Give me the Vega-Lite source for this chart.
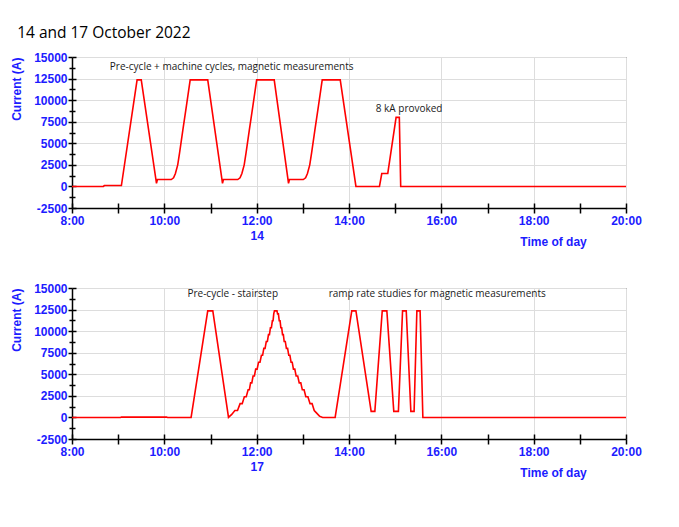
{
  "$schema": "https://vega.github.io/schema/vega-lite/v6.json",
  "background": "white",
  "padding": {"left": 10, "top": 26, "right": 5, "bottom": 5},
  "title": {"text": "14 and 17 October 2022", "anchor": "start", "frame": "bounds", "font": "Open Sans", "fontSize": 15.5, "fontWeight": "normal", "color": "#000000", "offset": 9, "dx": 7},
  "datasets": {
    "d14": [
      {"t": 8, "a": 0}, {"t": 8.68, "a": 0}, {"t": 8.7, "a": 100}, {"t": 9.07, "a": 100},
      {"t": 9.41, "a": 12350}, {"t": 9.5, "a": 12350}, {"t": 9.83, "a": 350}, {"t": 9.85, "a": 800},
      {"t": 10.15, "a": 800}, {"t": 10.2, "a": 1000}, {"t": 10.24, "a": 1500}, {"t": 10.29, "a": 2500},
      {"t": 10.33, "a": 3900}, {"t": 10.4, "a": 6500}, {"t": 10.48, "a": 9400}, {"t": 10.56, "a": 12350},
      {"t": 10.94, "a": 12350}, {"t": 11.26, "a": 350}, {"t": 11.28, "a": 800},
      {"t": 11.59, "a": 800}, {"t": 11.64, "a": 1000}, {"t": 11.68, "a": 1500}, {"t": 11.73, "a": 2500},
      {"t": 11.77, "a": 3900}, {"t": 11.84, "a": 6500}, {"t": 11.92, "a": 9400}, {"t": 12.0, "a": 12350},
      {"t": 12.38, "a": 12350}, {"t": 12.69, "a": 350}, {"t": 12.71, "a": 800},
      {"t": 13.01, "a": 800}, {"t": 13.06, "a": 1000}, {"t": 13.1, "a": 1500}, {"t": 13.15, "a": 2500},
      {"t": 13.19, "a": 3900}, {"t": 13.26, "a": 6500}, {"t": 13.34, "a": 9400}, {"t": 13.42, "a": 12350},
      {"t": 13.81, "a": 12350}, {"t": 14.15, "a": 0}, {"t": 14.66, "a": 0}, {"t": 14.71, "a": 1500},
      {"t": 14.84, "a": 1500}, {"t": 15.02, "a": 8000}, {"t": 15.09, "a": 8000}, {"t": 15.12, "a": 0},
      {"t": 20, "a": 0}
    ],
    "d17": [
      {"t": 8, "a": 0}, {"t": 9.05, "a": 0}, {"t": 9.07, "a": 40}, {"t": 10.05, "a": 40}, {"t": 10.07, "a": 0},
      {"t": 10.58, "a": 0}, {"t": 10.94, "a": 12350}, {"t": 11.05, "a": 12350}, {"t": 11.39, "a": 0},
      {"t": 11.46, "a": 350}, {"t": 11.528, "a": 800}, {"t": 11.585, "a": 800}, {"t": 11.641, "a": 1600},
      {"t": 11.687, "a": 1600}, {"t": 11.733, "a": 2400}, {"t": 11.774, "a": 2400}, {"t": 11.815, "a": 3200},
      {"t": 11.842, "a": 3200}, {"t": 11.868, "a": 4000}, {"t": 11.895, "a": 4000}, {"t": 11.922, "a": 4800},
      {"t": 11.951, "a": 4800}, {"t": 11.979, "a": 5600}, {"t": 12.01, "a": 5600}, {"t": 12.041, "a": 6400},
      {"t": 12.072, "a": 6400}, {"t": 12.103, "a": 7200}, {"t": 12.129, "a": 7200}, {"t": 12.155, "a": 8000},
      {"t": 12.182, "a": 8000}, {"t": 12.208, "a": 8800}, {"t": 12.232, "a": 8800}, {"t": 12.256, "a": 9600},
      {"t": 12.277, "a": 9600}, {"t": 12.298, "a": 10400}, {"t": 12.319, "a": 10400}, {"t": 12.34, "a": 11200},
      {"t": 12.355, "a": 11200}, {"t": 12.37, "a": 12000}, {"t": 12.385, "a": 12350}, {"t": 12.44, "a": 12350},
      {"t": 12.453, "a": 12000}, {"t": 12.471, "a": 12000}, {"t": 12.489, "a": 11200}, {"t": 12.507, "a": 11200},
      {"t": 12.524, "a": 10400}, {"t": 12.542, "a": 10400}, {"t": 12.56, "a": 9600}, {"t": 12.578, "a": 9600},
      {"t": 12.596, "a": 8800}, {"t": 12.62, "a": 8800}, {"t": 12.644, "a": 8000}, {"t": 12.67, "a": 8000},
      {"t": 12.695, "a": 7200}, {"t": 12.72, "a": 7200}, {"t": 12.745, "a": 6400}, {"t": 12.77, "a": 6400},
      {"t": 12.796, "a": 5600}, {"t": 12.826, "a": 5600}, {"t": 12.855, "a": 4800}, {"t": 12.889, "a": 4800},
      {"t": 12.922, "a": 4000}, {"t": 12.956, "a": 4000}, {"t": 12.989, "a": 3200}, {"t": 13.027, "a": 3200},
      {"t": 13.065, "a": 2400}, {"t": 13.11, "a": 2400}, {"t": 13.156, "a": 1600}, {"t": 13.2, "a": 1600},
      {"t": 13.247, "a": 800}, {"t": 13.3, "a": 500}, {"t": 13.36, "a": 150}, {"t": 13.43, "a": 0},
      {"t": 13.7, "a": 0}, {"t": 14.06, "a": 12350}, {"t": 14.15, "a": 12350}, {"t": 14.48, "a": 700},
      {"t": 14.56, "a": 700}, {"t": 14.72, "a": 12350}, {"t": 14.82, "a": 12350}, {"t": 14.97, "a": 700},
      {"t": 15.07, "a": 700}, {"t": 15.16, "a": 12350}, {"t": 15.24, "a": 12350}, {"t": 15.34, "a": 700},
      {"t": 15.41, "a": 700}, {"t": 15.47, "a": 12350}, {"t": 15.54, "a": 12350}, {"t": 15.6, "a": 0},
      {"t": 20, "a": 0}
    ],
    "n14": [
      {"t": 8.82, "a": 13824, "label": "Pre-cycle + machine cycles, magnetic measurements"},
      {"t": 14.58, "a": 9020, "label": "8 kA provoked"}
    ],
    "n17": [
      {"t": 10.5, "a": 14254, "label": "Pre-cycle  - stairstep"},
      {"t": 13.56, "a": 14254, "label": "ramp rate studies for magnetic measurements"}
    ]
  },
  "spacing": 33,
  "vconcat": [
    {
      "width": 554,
      "height": 151,
      "resolve": {"axis": {"x": "independent", "y": "independent"}},
      "layer": [
        {
          "data": {"name": "d14"},
          "mark": {"type": "line", "color": "#ff0000", "strokeWidth": 1.6},
          "encoding": {
            "x": {"field": "t", "type": "quantitative", "scale": {"domain": [8, 20], "nice": false, "zero": false},
              "axis": {"orient": "bottom", "values": [8, 9, 10, 11, 12, 13, 14, 15, 16, 17, 18, 19, 20],
                "labelExpr": "datum.value % 2 == 0 ? (datum.value == 12 ? ['12:00', '14'] : datum.value + ':00') : ''",
                "labelOverlap": false, "labelBound": false, "labelFlush": false, "labelLineHeight": 15, "labelPadding": 2,
                "tickSize": 5, "grid": true,
                "gridOpacity": {"condition": {"test": "datum.value % 2 == 0", "value": 1}, "value": 0},
                "title": "Time of day", "titleX": 481, "titleY": 33, "titleAlign": "center", "titleBaseline": "middle"}},
            "y": {"field": "a", "type": "quantitative", "scale": {"domain": [-2500, 15000], "nice": false, "zero": false},
              "axis": {"orient": "left", "values": [-2500, -1250, 0, 1250, 2500, 3750, 5000, 6250, 7500, 8750, 10000, 11250, 12500, 13750, 15000],
                "labelExpr": "datum.value % 2500 == 0 ? (datum.value < 0 ? '-' + (-datum.value) : '' + datum.value) : ''",
                "labelOverlap": false, "labelBound": false, "labelFlush": false, "labelPadding": 1,
                "tickSize": {"condition": {"test": "datum.value % 2500 == 0", "value": 4}, "value": 3},
                "grid": true,
                "gridOpacity": {"condition": {"test": "datum.value % 2500 == 0", "value": 1}, "value": 0},
                "title": "Current (A)", "titleAnchor": "end", "titlePadding": 10}}
          }
        },
        {
          "data": {"name": "n14"},
          "mark": {"type": "text", "align": "left", "baseline": "middle", "font": "Open Sans", "fontSize": 10, "color": "#1a1a1a"},
          "encoding": {
            "x": {"field": "t", "type": "quantitative",
              "axis": {"orient": "bottom", "values": [8, 9, 10, 11, 12, 13, 14, 15, 16, 17, 18, 19, 20], "tickSize": -5, "labels": false, "domain": false, "grid": false, "title": null}},
            "y": {"field": "a", "type": "quantitative",
              "axis": {"orient": "left", "values": [-2500, -1250, 0, 1250, 2500, 3750, 5000, 6250, 7500, 8750, 10000, 11250, 12500, 13750, 15000],
                "tickSize": {"condition": {"test": "datum.value % 2500 == 0", "value": -4}, "value": -3},
                "labels": false, "domain": false, "grid": false, "title": null}},
            "text": {"field": "label"}
          }
        }
      ]
    },
    {
      "width": 554,
      "height": 151,
      "resolve": {"axis": {"x": "independent", "y": "independent"}},
      "layer": [
        {
          "data": {"name": "d17"},
          "mark": {"type": "line", "color": "#ff0000", "strokeWidth": 1.6},
          "encoding": {
            "x": {"field": "t", "type": "quantitative", "scale": {"domain": [8, 20], "nice": false, "zero": false},
              "axis": {"orient": "bottom", "values": [8, 9, 10, 11, 12, 13, 14, 15, 16, 17, 18, 19, 20],
                "labelExpr": "datum.value % 2 == 0 ? (datum.value == 12 ? ['12:00', '17'] : datum.value + ':00') : ''",
                "labelOverlap": false, "labelBound": false, "labelFlush": false, "labelLineHeight": 15, "labelPadding": 2,
                "tickSize": 5, "grid": true,
                "gridOpacity": {"condition": {"test": "datum.value % 2 == 0", "value": 1}, "value": 0},
                "title": "Time of day", "titleX": 481, "titleY": 33, "titleAlign": "center", "titleBaseline": "middle"}},
            "y": {"field": "a", "type": "quantitative", "scale": {"domain": [-2500, 15000], "nice": false, "zero": false},
              "axis": {"orient": "left", "values": [-2500, -1250, 0, 1250, 2500, 3750, 5000, 6250, 7500, 8750, 10000, 11250, 12500, 13750, 15000],
                "labelExpr": "datum.value % 2500 == 0 ? (datum.value < 0 ? '-' + (-datum.value) : '' + datum.value) : ''",
                "labelOverlap": false, "labelBound": false, "labelFlush": false, "labelPadding": 1,
                "tickSize": {"condition": {"test": "datum.value % 2500 == 0", "value": 4}, "value": 3},
                "grid": true,
                "gridOpacity": {"condition": {"test": "datum.value % 2500 == 0", "value": 1}, "value": 0},
                "title": "Current (A)", "titleAnchor": "end", "titlePadding": 10}}
          }
        },
        {
          "data": {"name": "n17"},
          "mark": {"type": "text", "align": "left", "baseline": "middle", "font": "Open Sans", "fontSize": 10, "color": "#1a1a1a"},
          "encoding": {
            "x": {"field": "t", "type": "quantitative",
              "axis": {"orient": "bottom", "values": [8, 9, 10, 11, 12, 13, 14, 15, 16, 17, 18, 19, 20], "tickSize": -5, "labels": false, "domain": false, "grid": false, "title": null}},
            "y": {"field": "a", "type": "quantitative",
              "axis": {"orient": "left", "values": [-2500, -1250, 0, 1250, 2500, 3750, 5000, 6250, 7500, 8750, 10000, 11250, 12500, 13750, 15000],
                "tickSize": {"condition": {"test": "datum.value % 2500 == 0", "value": -4}, "value": -3},
                "labels": false, "domain": false, "grid": false, "title": null}},
            "text": {"field": "label"}
          }
        }
      ]
    }
  ],
  "config": {
    "view": {"stroke": "#333333", "strokeWidth": 1},
    "axis": {
      "labelFont": "Liberation Sans", "labelFontSize": 12, "labelFontWeight": "bold", "labelColor": "#1c1cff",
      "titleFont": "Liberation Sans", "titleFontSize": 12, "titleFontWeight": "bold", "titleColor": "#1c1cff",
      "domainColor": "#000000", "domainWidth": 1.5, "tickColor": "#000000", "tickWidth": 1.5,
      "gridColor": "#dddddd", "gridWidth": 1
    }
  }
}
